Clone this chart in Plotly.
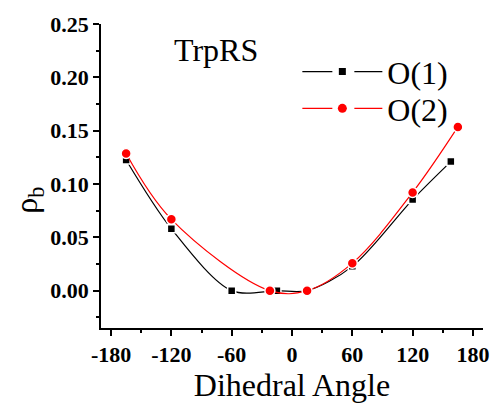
import plotly.graph_objects as go

# Data
angle_o1 = [-165, -120, -60, -15, 15, 60, 120, 158]
rho_o1 = [0.1225, 0.058, 0.0, 0.0, 0.0, 0.0228, 0.0854, 0.121]
angle_o2 = [-165, -120, -22, 15, 60, 120, 165]
rho_o2 = [0.1286, 0.0669, 0.0, 0.0, 0.0258, 0.0921, 0.1535]

x_ticks = [-180, -120, -60, 0, 60, 120, 180]
y_ticks = [0.00, 0.05, 0.10, 0.15, 0.20, 0.25]

serif = "Liberation Serif"

fig = go.Figure()
fig.add_trace(go.Scatter(
    x=angle_o1, y=rho_o1, name="O(1)", mode="lines+markers", showlegend=False,
    line=dict(color="black", width=1.2, shape="spline", smoothing=0.9),
    marker=dict(symbol="square", size=8, color="black", line=dict(color="white", width=1.5)),
))
fig.add_trace(go.Scatter(
    x=angle_o2, y=rho_o2, name="O(2)", mode="lines+markers", showlegend=False,
    line=dict(color="red", width=1.2, shape="spline", smoothing=1.0),
    marker=dict(symbol="circle", size=10, color="red", line=dict(color="white", width=1.5)),
))

# legend entries (Origin-style: line - marker - line)
fig.add_trace(go.Scatter(
    x=[None], y=[None], name="O(1)", mode="lines+markers", legend="legend",
    line=dict(color="black", width=1.2, dash="30px,22px"),
    marker=dict(symbol="square", size=7, color="black"),
))
fig.add_trace(go.Scatter(
    x=[None], y=[None], name="O(2)", mode="lines+markers", legend="legend2",
    line=dict(color="red", width=1.2, dash="30px,22px"),
    marker=dict(symbol="circle", size=9, color="red"),
))

fig.add_annotation(text="TrpRS", xref="x", yref="y", x=-76, y=0.226,
                   showarrow=False, font=dict(family=serif, size=32, color="black"))

fig.add_annotation(text="ρ<sub>b</sub>", xref="paper", yref="paper",
                   x=-0.19, y=0.42, xanchor="center", yanchor="middle",
                   textangle=-90, showarrow=False,
                   font=dict(family=serif, size=32, color="black"))

leg_common = dict(xanchor="left", yanchor="middle",
                  font=dict(family=serif, size=32, color="black"),
                  bgcolor="rgba(0,0,0,0)", itemwidth=80)

fig.update_layout(
    width=501, height=408,
    margin=dict(l=101, r=14, t=24, b=71),
    paper_bgcolor="white", plot_bgcolor="white",
    font=dict(family=serif, color="black"),
    showlegend=True,
    legend=dict(x=0.514, y=0.843, **leg_common),
    legend2=dict(x=0.514, y=0.722, **leg_common),
    xaxis=dict(
        range=[-190, 190], tickvals=x_ticks, ticktext=[str(v) for v in x_ticks],
        ticks="outside", ticklen=6, tickwidth=1.5, tickcolor="black",
        showline=True, linecolor="black", linewidth=1.5, mirror=False,
        showgrid=False, zeroline=False,
        tickfont=dict(family=serif, size=22, color="black", weight="bold"),
        minor=dict(dtick=30, tick0=-180, ticks="outside", ticklen=3, tickwidth=1.5, tickcolor="black", showgrid=False),
        title=dict(text="Dihedral Angle", font=dict(family=serif, size=32, color="black"), standoff=6),
    ),
    yaxis=dict(
        range=[-0.035, 0.25], tickvals=y_ticks, ticktext=[f"{v:.2f}" for v in y_ticks],
        ticks="outside", ticklen=6, tickwidth=1.5, tickcolor="black",
        showline=True, linecolor="black", linewidth=1.5, mirror=False,
        showgrid=False, zeroline=False,
        tickfont=dict(family=serif, size=22, color="black", weight="bold"),
        minor=dict(dtick=0.025, tick0=0, ticks="outside", ticklen=3, tickwidth=1.5, tickcolor="black", showgrid=False),
    ),
)

fig.write_html("out.html")
